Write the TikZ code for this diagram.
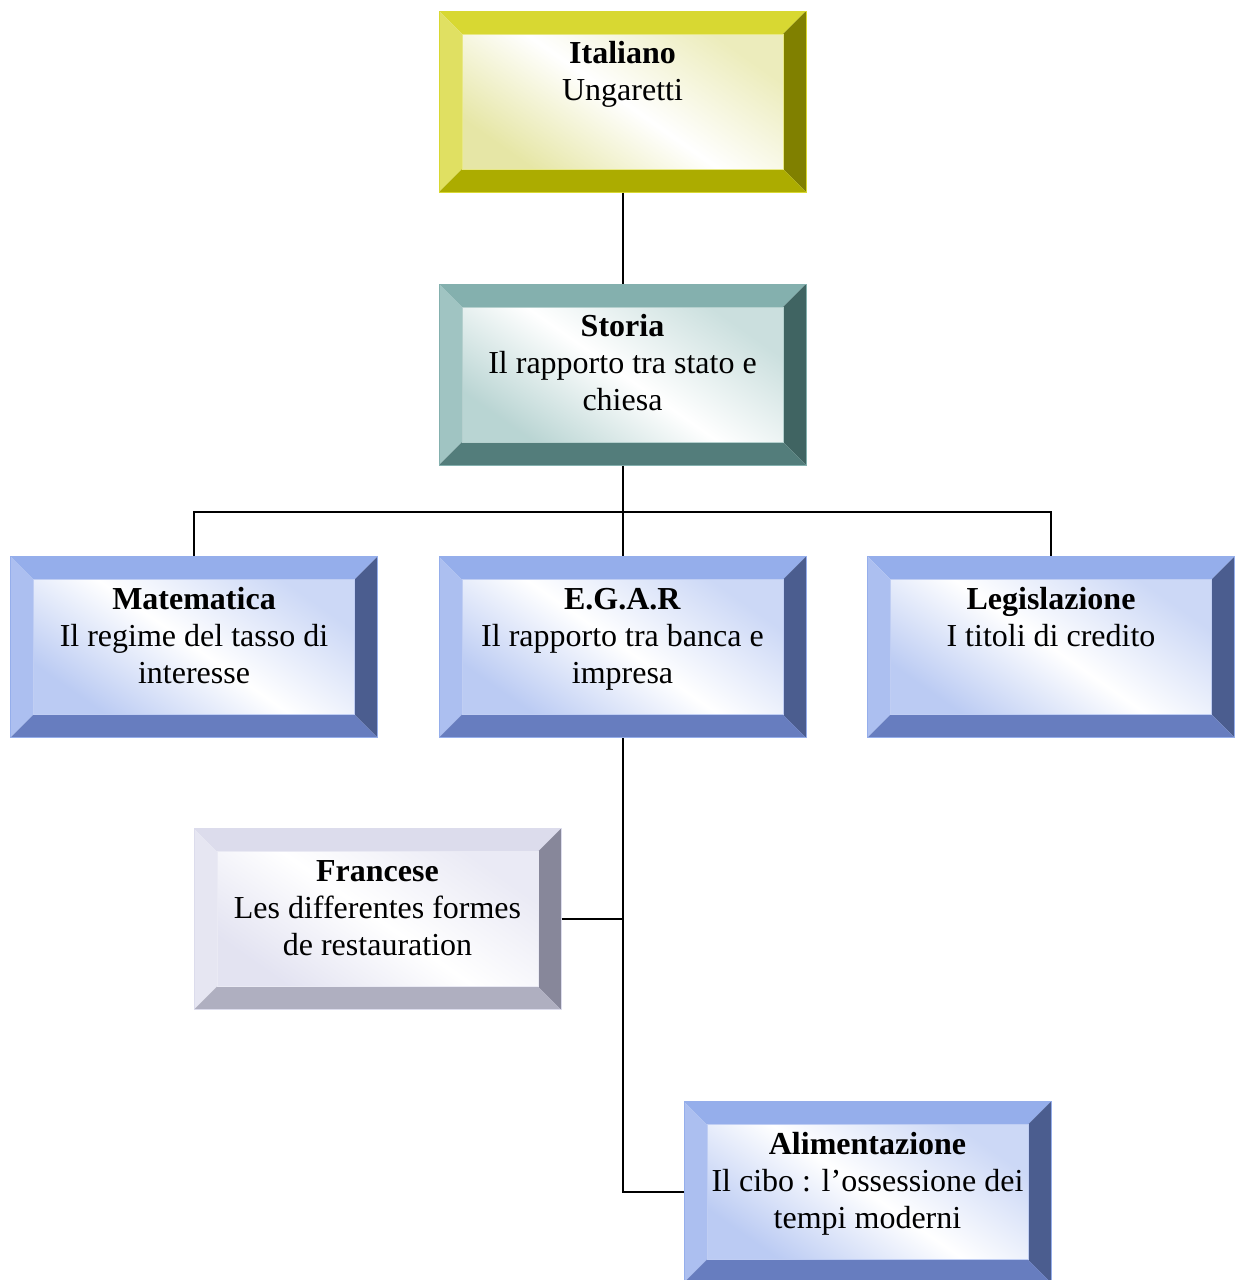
\documentclass[tikz,border=0pt]{standalone}
\usepackage{fontspec}
\setmainfont{Liberation Serif}
\usetikzlibrary{positioning}

% bevel colours: top, left, right, bottom, face
\definecolor{yelTop}{HTML}{D8D832}
\definecolor{yelLeft}{HTML}{E0E062}
\definecolor{yelRight}{HTML}{808000}
\definecolor{yelBot}{HTML}{ACAC00}
\definecolor{yelFace}{HTML}{E0E090}
\definecolor{tealTop}{HTML}{84B0AE}
\definecolor{tealLeft}{HTML}{A0C4C2}
\definecolor{tealRight}{HTML}{406462}
\definecolor{tealBot}{HTML}{537D7B}
\definecolor{tealFace}{HTML}{A8CAC8}
\definecolor{bluTop}{HTML}{95AEEB}
\definecolor{bluLeft}{HTML}{ACBFF0}
\definecolor{bluRight}{HTML}{4B5D8F}
\definecolor{bluBot}{HTML}{677DBF}
\definecolor{bluFace}{HTML}{AABEF0}
\definecolor{lavTop}{HTML}{DCDCEC}
\definecolor{lavLeft}{HTML}{E6E6F2}
\definecolor{lavRight}{HTML}{87879A}
\definecolor{lavBot}{HTML}{AFAFC0}
\definecolor{lavFace}{HTML}{DCDCEE}

\newcommand{\boxtext}[2]{\parbox[c][127pt][t]{340pt}{\centering\strut\textbf{#1}\\#2}}
\def\pp{path picture bounding box}

\begin{document}
\begin{tikzpicture}[x=1pt, y=1pt, line width=2pt,
    bevelbox/.style={draw=#1Top, line width=1pt, inner sep=0pt,
      minimum width=367pt, minimum height=181pt,
      font=\fontsize{32}{37}\selectfont,
      path picture={
        \coordinate (@nw) at ([shift={(23,-23)}]\pp.north west);
        \coordinate (@ne) at ([shift={(-23,-23)}]\pp.north east);
        \coordinate (@sw) at ([shift={(23,23)}]\pp.south west);
        \coordinate (@se) at ([shift={(-23,23)}]\pp.south east);
        \fill[#1Top] (\pp.north west) -- (\pp.north east) -- (@ne) -- (@nw) -- cycle;
        \fill[#1Left] (\pp.north west) -- (@nw) -- (@sw) -- (\pp.south west) -- cycle;
        \fill[#1Right] (\pp.north east) -- (@ne) -- (@se) -- (\pp.south east) -- cycle;
        \fill[#1Bot] (\pp.south west) -- (@sw) -- (@se) -- (\pp.south east) -- cycle;
        \shade[bottom color=#1Face!80!white, top color=#1Face!60!white, middle color=white, shading angle=-35]
          (@sw) rectangle (@ne);
        \draw[#1Top!60!white, line width=1pt] (@sw) rectangle (@ne);
      }}]
  \useasboundingbox (0,0) rectangle (1241,-1280);

  \node[bevelbox=yel] (ita) at (622.5,-101.5) {\boxtext{Italiano}{Ungaretti}};
  \node[bevelbox=teal] (sto) at (622.5,-374.5) {\boxtext{Storia}{Il rapporto tra stato e\\chiesa}};
  \node[bevelbox=blu] (mat) at (194,-647) {\boxtext{Matematica}{Il regime del tasso di\\interesse}};
  \node[bevelbox=blu] (egar) at (622.5,-647) {\boxtext{E.G.A.R}{Il rapporto tra banca e\\impresa}};
  \node[bevelbox=blu] (leg) at (1051,-647) {\boxtext{Legislazione}{I titoli di credito}};
  \node[bevelbox=lav] (fra) at (377.5,-919) {\boxtext{Francese}{Les differentes formes\\de restauration}};
  \node[bevelbox=blu] (ali) at (867.5,-1192) {\boxtext{Alimentazione}{Il cibo : l'ossessione dei\\tempi moderni}};

  \draw (ita) -- (sto);
  \draw (sto.south) -- ++(0,-46) coordinate (split);
  \draw (mat.north) |- (split) -| (leg.north);
  \draw (split) -- (egar.north);
  \draw (egar.south) |- (ali.west);
  \draw (fra.east) -- (fra.east -| egar.south);
\end{tikzpicture}
\end{document}
